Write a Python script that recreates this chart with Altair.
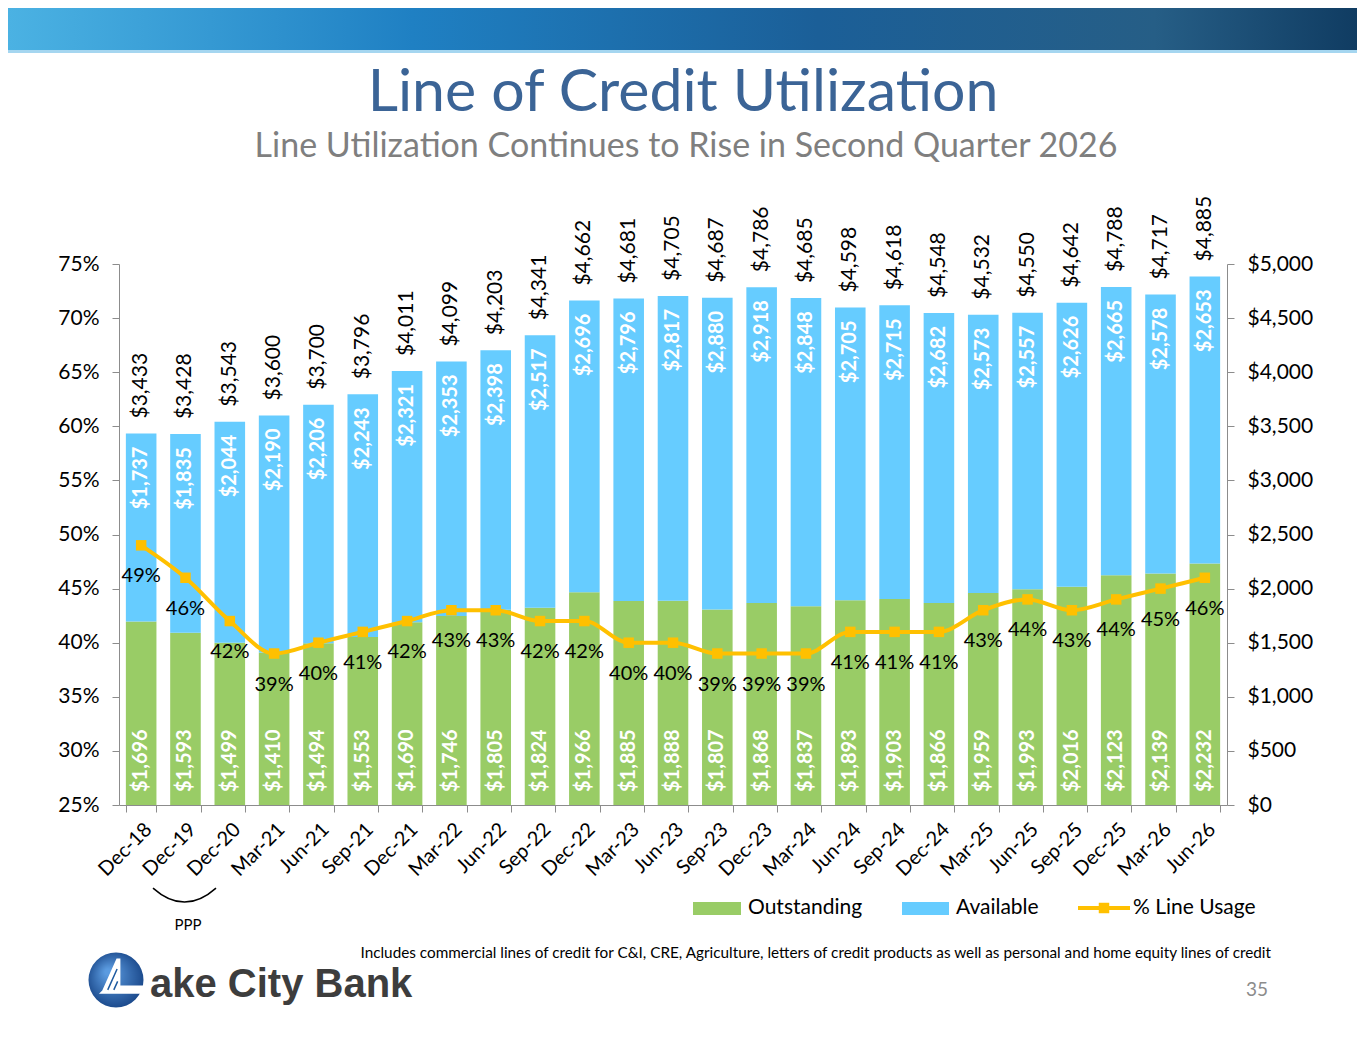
import altair as alt
import pandas as pd

categories = ["Dec-18", "Dec-19", "Dec-20", "Mar-21", "Jun-21", "Sep-21", "Dec-21",
              "Mar-22", "Jun-22", "Sep-22", "Dec-22", "Mar-23", "Jun-23", "Sep-23",
              "Dec-23", "Mar-24", "Jun-24", "Sep-24", "Dec-24", "Mar-25", "Jun-25",
              "Sep-25", "Dec-25", "Mar-26", "Jun-26"]
outstanding = [1696, 1593, 1499, 1410, 1494, 1553, 1690, 1746, 1805, 1824, 1966, 1885,
               1888, 1807, 1868, 1837, 1893, 1903, 1866, 1959, 1993, 2016, 2123, 2139, 2232]
available = [1737, 1835, 2044, 2190, 2206, 2243, 2321, 2353, 2398, 2517, 2696, 2796,
             2817, 2880, 2918, 2848, 2705, 2715, 2682, 2573, 2557, 2626, 2665, 2578, 2653]
totals = [3433, 3428, 3543, 3600, 3700, 3796, 4011, 4099, 4203, 4341, 4662, 4681,
          4705, 4687, 4786, 4685, 4598, 4618, 4548, 4532, 4550, 4642, 4788, 4717, 4885]
line_usage = [49, 46, 42, 39, 40, 41, 42, 43, 43, 42, 42, 40, 40, 39, 39, 39, 41, 41,
              41, 43, 44, 43, 44, 45, 46]
series_names = ["Outstanding", "Available"]
line_name = "% Line Usage"
pct_ticks = list(range(25, 76, 5))
dollar_ticks = list(range(0, 5001, 500))

FONT = "Lato"
GREEN = "#99CC66"
BLUE = "#66CCFF"
ORANGE = "#FFC000"
AXISC = "#8c8c8c"
W, H = 1108, 541

wide = pd.DataFrame({"cat": categories, "out": outstanding, "avail": available,
                     "total": totals, "pct": line_usage})
long = pd.DataFrame({
    "cat": categories * 2,
    "series": [series_names[0]] * len(categories) + [series_names[1]] * len(categories),
    "value": outstanding + available,
    "order": [0] * len(categories) + [1] * len(categories),
})
one = pd.DataFrame({"k": [0]})

xenc = alt.X("cat:N", sort=categories,
             scale=alt.Scale(paddingInner=0.31, paddingOuter=0.155),
             axis=alt.Axis(title=None, labelAngle=-45, labelFontSize=20, labelFont=FONT,
                           labelColor="#000000", domainColor=AXISC, tickColor=AXISC,
                           tickSize=7, tickBand="extent", labelPadding=7))

d_scale = alt.Scale(domain=[0, 5000], nice=False, zero=True)
d_axis = alt.Axis(orient="right", values=dollar_ticks, format="$,.0f", title=None,
                  labelFontSize=21, labelFont=FONT, labelColor="#000000",
                  domainColor=AXISC, tickColor=AXISC, tickSize=7, labelPadding=13,
                  grid=False)
p_scale = alt.Scale(domain=[25, 75], nice=False, zero=False)
p_axis = alt.Axis(orient="left", values=pct_ticks, labelExpr="datum.value + '%'",
                  title=None, labelFontSize=21, labelFont=FONT, labelColor="#000000",
                  domainColor=AXISC, tickColor=AXISC, tickSize=7, labelPadding=13,
                  grid=False)

bars = alt.Chart(long).mark_bar().encode(
    x=xenc,
    y=alt.Y("value:Q", stack="zero", scale=d_scale, axis=d_axis),
    color=alt.Color("series:N", scale=alt.Scale(domain=series_names, range=[GREEN, BLUE]),
                    legend=None),
    order=alt.Order("order:Q"),
)
out_lbl = alt.Chart(wide).mark_text(angle=270, align="left", baseline="middle", dx=13,
                                    color="white", fontWeight="bold", fontSize=20,
                                    font=FONT).encode(
    x=xenc, y=alt.Y(datum=0, scale=d_scale, axis=d_axis),
    text=alt.Text("out:Q", format="$,.0f"))
av_lbl = alt.Chart(wide).mark_text(angle=270, align="right", baseline="middle", dx=-13,
                                   color="white", fontWeight="bold", fontSize=20,
                                   font=FONT).encode(
    x=xenc, y=alt.Y("total:Q", scale=d_scale, axis=d_axis),
    text=alt.Text("avail:Q", format="$,.0f"))
tot_lbl = alt.Chart(wide).mark_text(angle=270, align="left", baseline="middle", dx=15,
                                    color="#000000", fontSize=21, font=FONT).encode(
    x=xenc, y=alt.Y("total:Q", scale=d_scale, axis=d_axis),
    text=alt.Text("total:Q", format="$,.0f"))
dollar_group = alt.layer(bars, out_lbl, av_lbl, tot_lbl)

pbase = alt.Chart(wide).encode(x=xenc, y=alt.Y("pct:Q", scale=p_scale, axis=p_axis))
pline = pbase.mark_line(color=ORANGE, strokeWidth=4, interpolate="monotone")
ppts = pbase.mark_point(shape="square", filled=True, size=110, color=ORANGE, opacity=1)
plbl = pbase.transform_calculate(lbl="datum.pct + '%'").mark_text(
    dy=31, baseline="middle", fontSize=20, font=FONT, color="#000000").encode(
    text="lbl:N")
pct_group = alt.layer(pline, ppts, plbl)


def txt(s, x, y, size, color="#000000", align="center", baseline="alphabetic",
        weight="normal", font=FONT):
    return alt.Chart(one).mark_text(align=align, baseline=baseline, fontSize=size,
                                    color=color, fontWeight=weight, font=font).encode(
        x=alt.value(x), y=alt.value(y), text=alt.value(s))


def box(x, x2, y, y2, fill):
    return alt.Chart(one).mark_rect(fill=fill).encode(
        x=alt.value(x), x2=alt.value(x2), y=alt.value(y), y2=alt.value(y2))


banner_grad = alt.Gradient(gradient="linear", x1=0, x2=1, y1=0, y2=0, stops=[
    alt.GradientStop(offset=0, color="#4BB2E3"),
    alt.GradientStop(offset=0.3, color="#1F80C3"),
    alt.GradientStop(offset=0.6, color="#1B5F98"),
    alt.GradientStop(offset=0.85, color="#265E86"),
    alt.GradientStop(offset=1, color="#103C62"),
])
banner = box(-111, 1238, -256, -214, banner_grad)
banner_line = box(-111, 1238, -214, -211, "#A5D6F0")

title = txt("Line of Credit Utilization", 564, -153, 59, color="#3B6496")
subtitle = txt("Line Utilization Continues to Rise in Second Quarter 2026", 567, -107, 34,
               color="#7F7F7F")
footnote = txt("Includes commercial lines of credit for C&I, CRE, Agriculture, letters of "
               "credit products as well as personal and home equity lines of credit",
               1152, 694, 15.3, align="right")
page_no = txt("35", 1149, 732, 19, color="#8C8C8C", align="right")
ppp = txt("PPP", 69, 661, 15, baseline="middle")
arc = alt.Chart(one).mark_point(shape="M -1 -0.22 Q 0 0.67 1 -0.22", filled=False,
                                stroke="#000000", strokeWidth=1.5, size=3969,
                                opacity=1).encode(x=alt.value(65.5), y=alt.value(631))

# legend
leg_out_sw = box(574, 622, 638, 651, GREEN)
leg_out_t = txt(series_names[0], 629, 644, 21, align="left", baseline="middle")
leg_av_sw = box(783, 830, 638, 651, BLUE)
leg_av_t = txt(series_names[1], 837, 644, 21, align="left", baseline="middle")
leg_line = alt.Chart(one).mark_rule(color=ORANGE, strokeWidth=4).encode(
    x=alt.value(959), x2=alt.value(1011), y=alt.value(644))
leg_sq = alt.Chart(one).mark_point(shape="square", filled=True, size=110, color=ORANGE,
                                   opacity=1).encode(x=alt.value(985), y=alt.value(644))
leg_line_t = txt(line_name, 1014, 644, 21, align="left", baseline="middle")

# logo
logo_grad = alt.Gradient(gradient="radial", x1=0.35, y1=0.35, r1=0.05, x2=0.5, y2=0.5,
                         r2=0.6, stops=[alt.GradientStop(offset=0, color="#5B9BE0"),
                                        alt.GradientStop(offset=1, color="#123E80")])
logo_circle = alt.Chart(one).mark_point(shape="circle", filled=True, size=3025,
                                        fill=logo_grad, opacity=1).encode(
    x=alt.value(-3), y=alt.value(716))
logo_l = alt.Chart(one).mark_point(
    shape="M -0.5 0.38 L 0.02 -0.78 L 0.16 -0.78 L 0.16 0.2 L 1.25 0.2 L 1.25 0.5 L -0.62 0.5 Z",
    filled=True, size=3025, color="white", opacity=1).encode(
    x=alt.value(-3), y=alt.value(716))
logo_lines = alt.Chart(one).mark_point(
    shape="M -0.3 0.36 L 0.04 -0.4 M -0.08 0.36 L 0.06 0.05", filled=False,
    size=3025, stroke="#1E5AA0", strokeWidth=1.5, opacity=1).encode(
    x=alt.value(-3), y=alt.value(716))
logo_text = txt("ake City Bank", 31, 733, 40, color="#3D3D3D", align="left",
                weight="bold", font="Liberation Sans Narrow, Liberation Sans")

chart = alt.layer(
    banner, banner_line, title, subtitle,
    dollar_group, pct_group,
    footnote, page_no, ppp, arc,
    leg_out_sw, leg_out_t, leg_av_sw, leg_av_t, leg_line, leg_sq, leg_line_t,
    logo_circle, logo_l, logo_lines, logo_text,
).resolve_scale(y="independent").properties(
    width=W, height=H,
    autosize=alt.AutoSizeParams(type="none"),
    padding={"left": 111, "top": 256, "right": 130, "bottom": 220},
).configure_view(stroke=None).configure_axis(grid=False)

chart.save("out.html", embed_options={"renderer": "svg", "actions": False})
